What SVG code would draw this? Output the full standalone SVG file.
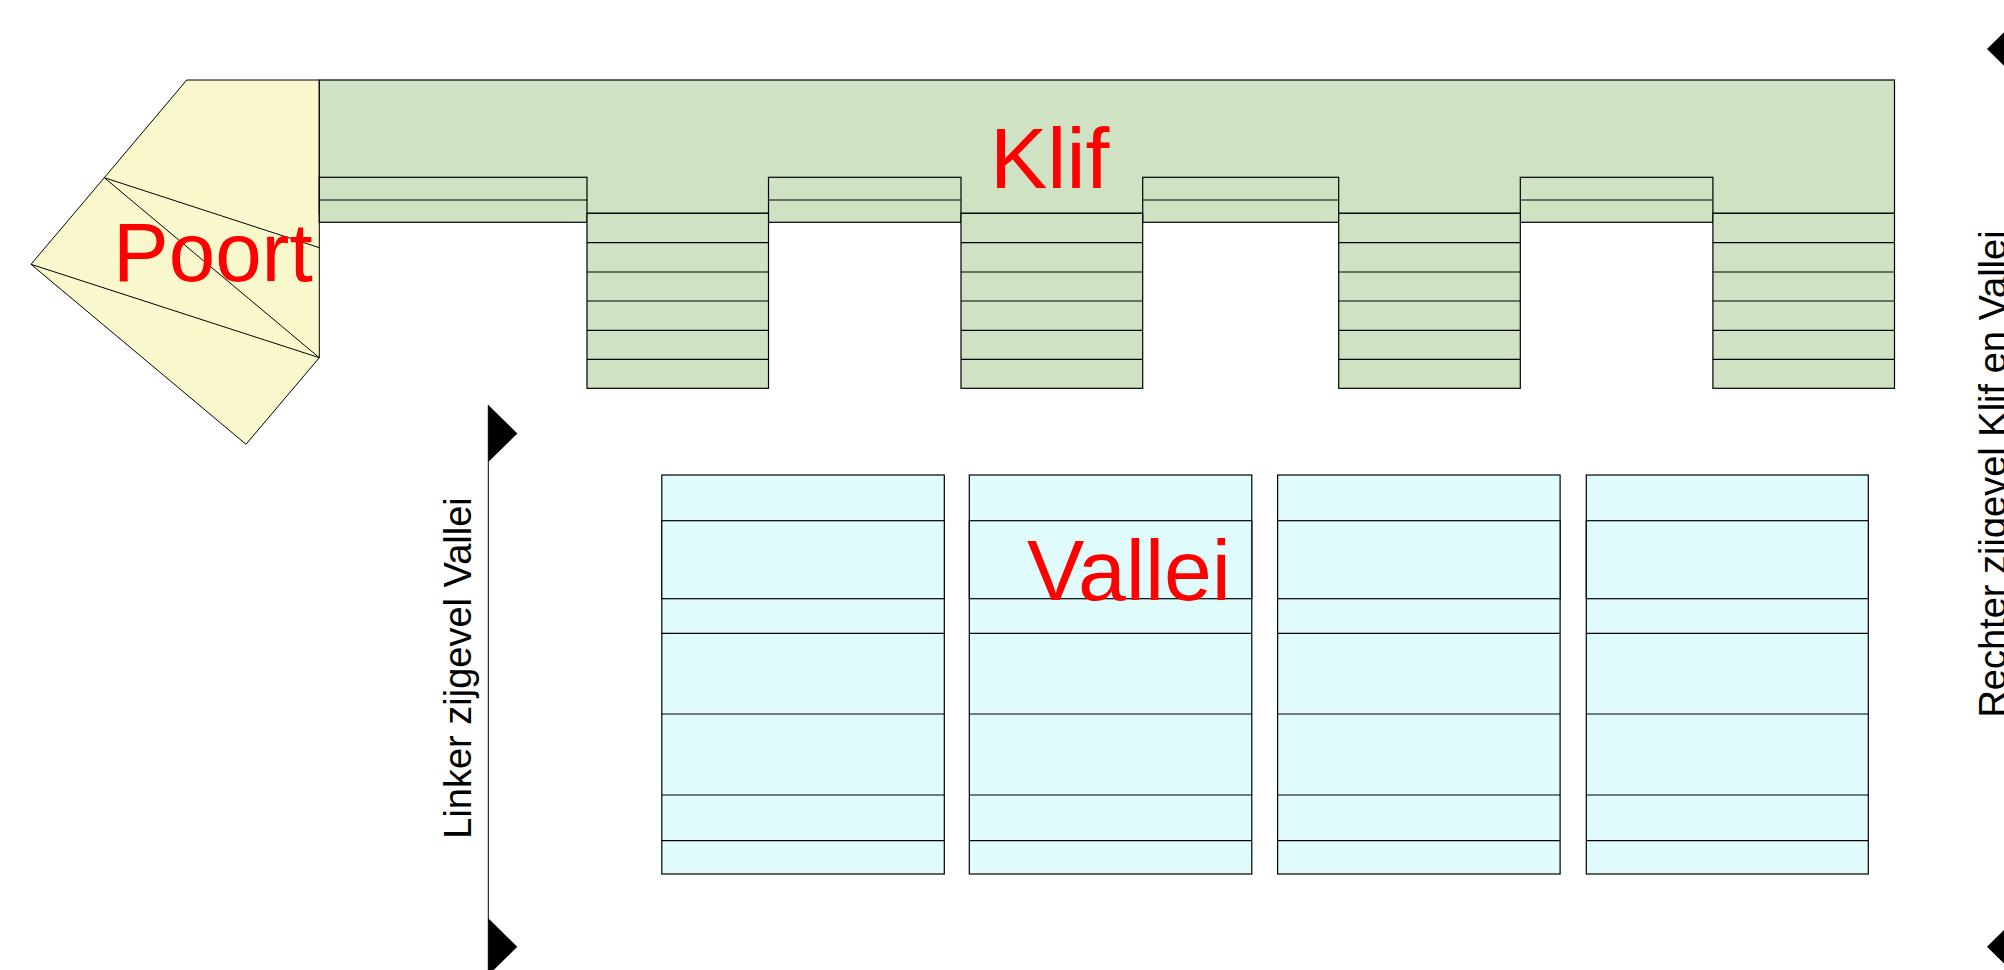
<svg xmlns="http://www.w3.org/2000/svg" xmlns:xlink="http://www.w3.org/1999/xlink" width="2004" height="970" viewBox="0 0 2004 970">
<style>
.bg{fill:#ffffff}
.y{fill:#f9f7cc;stroke:#000;stroke-width:1}
.g{fill:#cfe3c4;stroke:#000;stroke-width:1.2}
.c{fill:#e0fbfb;stroke:#000;stroke-width:1.2}
.ln{fill:none;stroke:#000;stroke-width:1.2}
.thin{fill:none;stroke:#000;stroke-width:1}
.big{font-family:"Liberation Sans",Arial,sans-serif;font-size:86px;fill:#ff0000}
.side{font-family:"Liberation Sans",Arial,sans-serif;font-size:38px;fill:#000}
.flag{fill:#000}
</style>
<defs>
<polygon id="flagR" points="0,0 29,28.5 0,57"/>
<polygon id="flagL" points="0,0 -29,28.5 0,57"/>
</defs>
<rect class="bg" x="0" y="0" width="2004" height="970"/>

<g id="poort">
<polygon class="y" points="186.7,80 319.3,80 319.3,357.7 246,444.3 31,264.3 104.3,177.7"/>
<line class="thin" x1="104.3" y1="177.7" x2="319.3" y2="247.7"/>
<line class="thin" x1="104.3" y1="177.7" x2="319.3" y2="357.7"/>
<line class="thin" x1="31" y1="264.3" x2="319.3" y2="357.7"/>
<text class="big" x="113" y="281" style="font-size:83.5px">Poort</text>
</g>

<g id="klif">
<rect class="g" x="319.3" y="80" width="1575.2" height="133.3"/>
<g id="klif-top">
<rect class="g" x="319.3" y="177.3" width="267.7" height="45"/>
<line class="ln" x1="319.3" y1="200" x2="587" y2="200"/>
<rect class="g" x="768.5" y="177.3" width="192.5" height="45"/>
<line class="ln" x1="768.5" y1="200" x2="961" y2="200"/>
<rect class="g" x="1142.7" y="177.3" width="196" height="45"/>
<line class="ln" x1="1142.7" y1="200" x2="1338.7" y2="200"/>
<rect class="g" x="1520.3" y="177.3" width="192.6" height="45"/>
<line class="ln" x1="1520.3" y1="200" x2="1712.9" y2="200"/>
</g>
<g id="klif-blocks">
<g id="klif-b1">
<rect class="g" x="587" y="213.3" width="181.5" height="175"/>
<path class="ln" d="M587 242.7H768.5M587 272H768.5M587 301H768.5M587 330.3H768.5M587 359.3H768.5"/>
</g>
<g id="klif-b2">
<rect class="g" x="961" y="213.3" width="181.7" height="175"/>
<path class="ln" d="M961 242.7H1142.7M961 272H1142.7M961 301H1142.7M961 330.3H1142.7M961 359.3H1142.7"/>
</g>
<g id="klif-b3">
<rect class="g" x="1338.7" y="213.3" width="181.6" height="175"/>
<path class="ln" d="M1338.7 242.7H1520.3M1338.7 272H1520.3M1338.7 301H1520.3M1338.7 330.3H1520.3M1338.7 359.3H1520.3"/>
</g>
<g id="klif-b4">
<rect class="g" x="1712.9" y="213.3" width="181.6" height="175"/>
<path class="ln" d="M1712.9 242.7H1894.5M1712.9 272H1894.5M1712.9 301H1894.5M1712.9 330.3H1894.5M1712.9 359.3H1894.5"/>
</g>
</g>
<text class="big" x="990" y="188">Klif</text>
</g>

<g id="vallei">
<g id="vallei-1">
<rect class="c" x="661.8" y="475" width="282.5" height="399"/>
<rect class="c" x="661.8" y="520.7" width="282.5" height="78"/>
<path class="ln" d="M661.8 633.3H944.3M661.8 714H944.3M661.8 795H944.3M661.8 840.7H944.3"/>
</g>
<g id="vallei-2">
<rect class="c" x="969.3" y="475" width="282.5" height="399"/>
<rect class="c" x="969.3" y="520.7" width="282.5" height="78"/>
<path class="ln" d="M969.3 633.3H1251.8M969.3 714H1251.8M969.3 795H1251.8M969.3 840.7H1251.8"/>
</g>
<g id="vallei-3">
<rect class="c" x="1277.6" y="475" width="282.5" height="399"/>
<rect class="c" x="1277.6" y="520.7" width="282.5" height="78"/>
<path class="ln" d="M1277.6 633.3H1560.1M1277.6 714H1560.1M1277.6 795H1560.1M1277.6 840.7H1560.1"/>
</g>
<g id="vallei-4">
<rect class="c" x="1586.3" y="475" width="282" height="399"/>
<rect class="c" x="1586.3" y="520.7" width="282" height="78"/>
<path class="ln" d="M1586.3 633.3H1868.3M1586.3 714H1868.3M1586.3 795H1868.3M1586.3 840.7H1868.3"/>
</g>
<text class="big" x="1027" y="600">Vallei</text>
</g>

<g id="connectors">
<line class="thin" x1="488.3" y1="405" x2="488.3" y2="980"/>
<use xlink:href="#flagR" class="flag" x="488.3" y="405"/>
<use xlink:href="#flagR" class="flag" x="488.3" y="918.3"/>
<line class="thin" x1="2016" y1="20.5" x2="2016" y2="980"/>
<use xlink:href="#flagL" class="flag" x="2016" y="20.5"/>
<use xlink:href="#flagL" class="flag" x="2016" y="918.3"/>
</g>

<g id="linker-label">
<text class="side" text-anchor="middle" transform="translate(471,668) rotate(-90)">Linker zijgevel Vallei</text>
</g>
<g id="rechter-label">
<text class="side" text-anchor="middle" transform="translate(2005.5,474) rotate(-90)">Rechter zijgevel Klif en Vallei</text>
</g>
</svg>
